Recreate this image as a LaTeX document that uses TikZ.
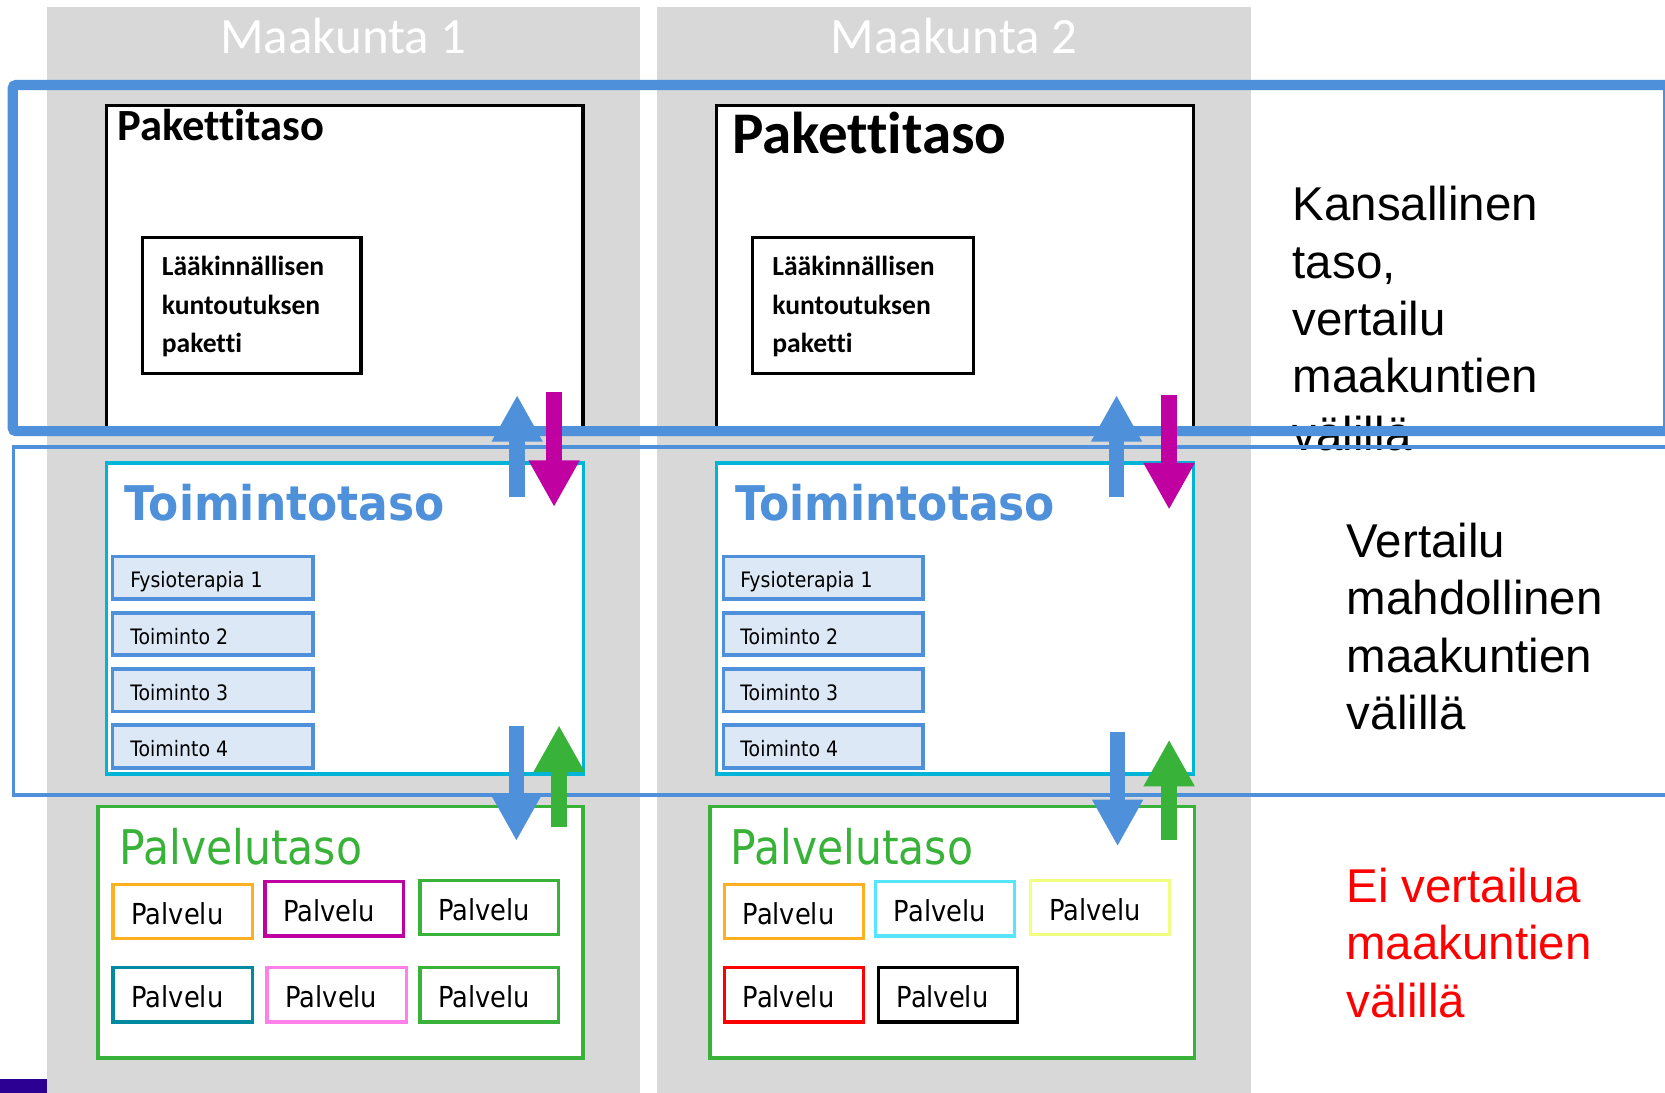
\documentclass[tikz,border=0pt]{standalone}
\usepackage{fontspec}
\usetikzlibrary{arrows.meta,fit,calc}
\newfontfamily\calfont[Ligatures={NoCommon}]{Carlito}
\newfontfamily\tahfont[FakeStretch=0.89]{DejaVu Sans}
\newfontfamily\tahbfont[FakeStretch=0.92]{DejaVu Sans}
\newfontfamily\arifont{Liberation Sans}
\definecolor{bluec}{RGB}{78,145,218}
\definecolor{magc}{RGB}{192,0,160}
\definecolor{greenc}{RGB}{57,178,57}
\definecolor{cyanc}{RGB}{0,180,216}
\definecolor{fysfill}{RGB}{220,232,246}
\definecolor{orangec}{RGB}{255,176,32}
\definecolor{tealc}{RGB}{0,138,160}
\definecolor{pinkc}{RGB}{255,128,232}
\definecolor{cyan2c}{RGB}{85,229,255}
\definecolor{yellowc}{RGB}{240,255,128}
\definecolor{navyc}{RGB}{45,0,148}
\definecolor{grayc}{RGB}{216,216,216}
\begin{document}
\begin{tikzpicture}[x=0.5pt,y=-0.5pt,
  col/.style={fill=grayc, draw=none, inner sep=0pt},
  navybar/.style={fill=navyc, draw=none, inner sep=0pt},
  maak/.style={anchor=base, inner sep=0pt, text=white, font=\calfont\fontsize{24pt}{28pt}\selectfont},
  rtext/.style={anchor=base west, inner sep=0pt, align=left, font=\arifont\fontsize{22.35pt}{27pt}\selectfont},
  pk/.style={draw=black, fill=white, line width=1.55pt, inner sep=0pt},
  pktitle/.style={anchor=base west, inner sep=0pt},
  lktext/.style={anchor=base west, inner sep=0pt, align=left, font=\calfont\bfseries\fontsize{13pt}{18pt}\selectfont},
  tt/.style={draw=cyanc, fill=white, line width=1.55pt, inner sep=0pt},
  tttitle/.style={anchor=base west, inner sep=0pt, text=bluec, font=\tahbfont\bfseries\fontsize{22.5pt}{27pt}\selectfont},
  fys/.style={draw=bluec, fill=fysfill, line width=1.7pt, inner sep=0pt},
  fystext/.style={anchor=base west, inner sep=0pt, font=\tahfont\fontsize{10pt}{12pt}\selectfont},
  pv/.style={draw=greenc, fill=white, line width=1.7pt, inner sep=0pt},
  pvtitle/.style={anchor=base west, inner sep=0pt, text=greenc, font=\tahfont\fontsize{22.5pt}{27pt}\selectfont},
  pal/.style={fill=white, line width=1.5pt, inner sep=0pt},
  paltext/.style={anchor=base west, inner sep=0pt, font=\tahfont\fontsize{13.6pt}{16pt}\selectfont},
  thickframe/.style={draw=bluec, line width=4.75pt, rounded corners=1.5pt, inner sep=0pt},
  thinframe/.style={draw=bluec, line width=1.65pt, inner sep=0pt},
  barrow/.style={line width=7.25pt, -{Triangle[width=22.5pt,length=22pt]}}
]
\useasboundingbox (0,0) rectangle (1568,1029.3);
\fill[white] (0,0) rectangle (1568,1029.3);

% columns
\node[col, fit={(44,6.5) (603,1029.3)}] (col1) {};
\node[col, fit={(619,6.5) (1178,1029.3)}] (col2) {};
\node[navybar, fit={(0,1016) (44,1029.3)}] (bar) {};
\node[maak] (mk1) at (323.5,50) {Maakunta 1};
\node[maak] (mk2) at (898.5,50) {Maakunta 2};

% right side texts (anchor = baseline of last line)
\node[rtext] (kans) at (1217,424) {Kansallinen\\taso,\\vertailu\\maakuntien\\välillä};
\node[rtext] (mahd) at (1268,687) {Vertailu\\mahdollinen\\maakuntien\\välillä};
\node[rtext, text=red] (ei) at (1267.5,958) {Ei vertailua\\maakuntien\\välillä};

% package level
\node[pk, fit={(100,99.5) (549,405)}] (pk1) {};
\node[pk, fit={(675,99.5) (1124,405)}] (pk2) {};
\node[pktitle, font=\calfont\bfseries\fontsize{21pt}{25pt}\selectfont] (pkt1) at (110,132) {Pakettitaso};
\node[pktitle, font=\calfont\bfseries\fontsize{27.8pt}{32pt}\selectfont] (pkt2) at (689,144.5) {Pakettitaso};
\node[pk, fit={(134,223.5) (340,351.5)}] (lk1) {};
\node[pk, fit={(708.5,223.5) (917,351.5)}] (lk2) {};
\node[lktext] (lkt1) at (152,331.7) {Lääkinnällisen\\kuntoutuksen\\paketti};
\node[lktext] (lkt2) at (727,331.7) {Lääkinnällisen\\kuntoutuksen\\paketti};

% activity level
\node[tt, fit={(100,436) (549.5,729)}] (to1) {};
\node[tt, fit={(675,436) (1124,729)}] (to2) {};
\node[tttitle] (tot1) at (117,489.7) {Toimintotaso};
\node[tttitle] (tot2) at (692,489.7) {Toimintotaso};
\node[fys, fit={(106,524) (295,564)}] (f11) {};
\node[fys, fit={(106,577) (295,617)}] (f12) {};
\node[fys, fit={(106,630) (295,670)}] (f13) {};
\node[fys, fit={(106,683) (295,723)}] (f14) {};
\node[fys, fit={(681.5,524) (869,564)}] (f21) {};
\node[fys, fit={(681.5,577) (869,617)}] (f22) {};
\node[fys, fit={(681.5,630) (869,670)}] (f23) {};
\node[fys, fit={(681.5,683) (869,723)}] (f24) {};
\node[fystext] (f11t) at ($(f11.south west)+(18,-12)$) {Fysioterapia 1};
\node[fystext] (f12t) at ($(f12.south west)+(18,-12)$) {Toiminto 2};
\node[fystext] (f13t) at ($(f13.south west)+(18,-12)$) {Toiminto 3};
\node[fystext] (f14t) at ($(f14.south west)+(18,-12)$) {Toiminto 4};
\node[fystext] (f21t) at ($(f21.south west)+(17,-12)$) {Fysioterapia 1};
\node[fystext] (f22t) at ($(f22.south west)+(17,-12)$) {Toiminto 2};
\node[fystext] (f23t) at ($(f23.south west)+(17,-12)$) {Toiminto 3};
\node[fystext] (f24t) at ($(f24.south west)+(17,-12)$) {Toiminto 4};

% service level
\node[pv, fit={(92.5,759.5) (549,996.5)}] (pv1) {};
\node[pv, fit={(668.7,759.5) (1125,996.5)}] (pv2) {};
\node[pvtitle] (pvt1) at (112,814) {Palvelutaso};
\node[pvtitle] (pvt2) at (687.5,814) {Palvelutaso};

\node[pal, draw=orangec, fit={(106.5,833) (238,884)}] (p11) {};
\node[pal, draw=magc, fit={(249.5,830.5) (380,881.5)}] (p12) {};
\node[pal, draw=greenc, fit={(395.5,829) (526,880)}] (p13) {};
\node[pal, draw=tealc, fit={(106.5,911) (238,962.5)}] (p14) {};
\node[pal, draw=pinkc, fit={(251.5,911) (382.5,962.5)}] (p15) {};
\node[pal, draw=greenc, fit={(395.5,911) (526,962.5)}] (p16) {};
\node[pal, draw=orangec, fit={(682,833) (813,884)}] (p21) {};
\node[pal, draw=cyan2c, fit={(824.5,830.5) (955.5,881.5)}] (p22) {};
\node[pal, draw=yellowc, fit={(970.5,829) (1101.5,880)}] (p23) {};
\node[pal, draw=red, fit={(682,911) (813,962.5)}] (p24) {};
\node[pal, draw=black, fit={(827,911) (958,962.5)}] (p25) {};
\foreach \p in {p11,p12,p13,p14,p15,p16,p21,p22,p23,p24,p25}{
  \node[paltext] (\p t) at ($(\p.south west)+(18.5,-15)$) {Palvelu};
}

% comparison frames
\node[thickframe, fit={(12,80) (1571,406)}] (natl) {};
\node[thinframe, fit={(12.5,421) (1600,748.5)}] (regn) {};

% arrows
\coordinate (a1s) at (487,468);    \coordinate (a1e) at (487,372);
\coordinate (a2s) at (521.8,369);  \coordinate (a2e) at (521.8,477.5);
\coordinate (a3s) at (486.3,684);  \coordinate (a3e) at (486.3,792);
\coordinate (a4s) at (526.5,779);  \coordinate (a4e) at (526.5,683);
\coordinate (b1s) at (1051.5,468); \coordinate (b1e) at (1051.5,372);
\coordinate (b2s) at (1101,372);   \coordinate (b2e) at (1101,480);
\coordinate (b3s) at (1052.5,689); \coordinate (b3e) at (1052.5,797);
\coordinate (b4s) at (1101,791);   \coordinate (b4e) at (1101,696.5);
\draw[barrow, draw=bluec] (a1s) -- (a1e);
\draw[barrow, draw=magc] (a2s) -- (a2e);
\draw[barrow, draw=bluec] (a3s) -- (a3e);
\draw[barrow, draw=greenc] (a4s) -- (a4e);
\draw[barrow, draw=bluec] (b1s) -- (b1e);
\draw[barrow, draw=magc] (b2s) -- (b2e);
\draw[barrow, draw=bluec] (b3s) -- (b3e);
\draw[barrow, draw=greenc] (b4s) -- (b4e);
\end{tikzpicture}
\end{document}
